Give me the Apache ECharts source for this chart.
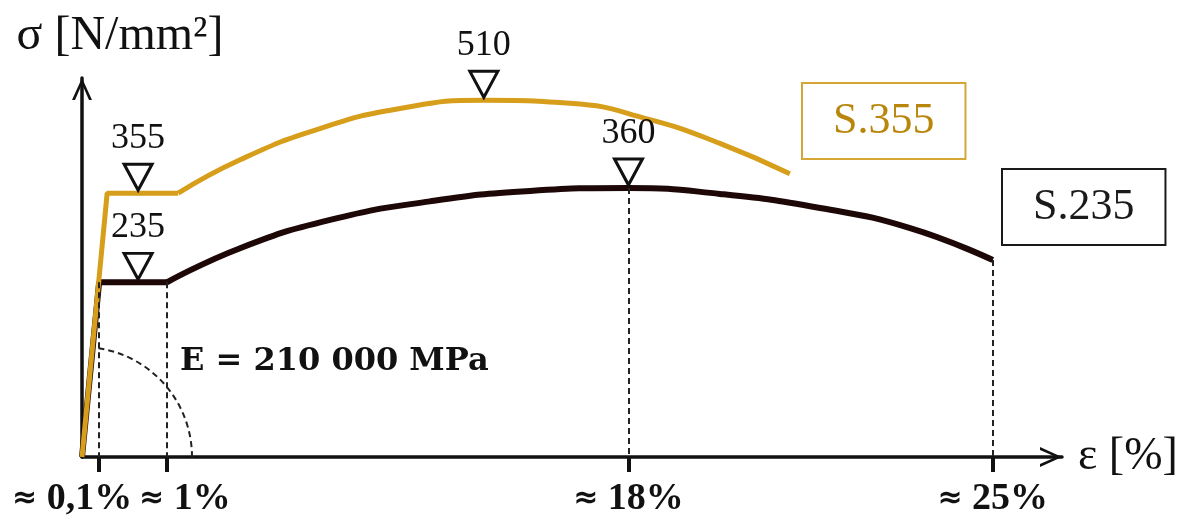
<!DOCTYPE html>
<html>
<head>
<meta charset="utf-8">
<title>σ-ε</title>
<script src="https://cdn.jsdelivr.net/npm/echarts@6/dist/echarts.min.js"></script>
<style>
	html, body { margin: 0; padding: 0; background: #fff; }
	#chart { width: 1195px; height: 520px; }
</style>
</head>
<body>
<div id="chart"></div>
<script>
// x: schematic strain position, y: stress [N/mm2]
var xTicks = [0.47, 2.33, 15, 25];
var xTickLabels = ['≈ 0,1%', '≈ 1%', '≈ 18%', '≈ 25%'];

// S.235
var s235Linear = [[0, 0], [0.47, 235], [2.33, 235]];
var s235Curve = [[2.33, 235], [4.34, 281], [6.81, 319], [9.55, 344], [12.3, 358],
	[15, 362], [17.51, 354], [20.26, 335], [22.73, 308], [25, 265]];
var s235Marks = [[1.54, 235], [15, 362]];
var s235MarkText = ['235', '360'];

// S.355
var s355Linear = [[0, 0], [0.69, 355], [2.64, 355]];
var s355Curve = [[2.64, 355], [4.34, 400], [6.53, 442], [8.73, 469], [11.03, 480],
	[13.4, 476], [15.59, 454], [17.51, 422], [19.43, 381]];
var s355Marks = [[1.54, 355], [11.03, 480]];
var s355MarkText = ['355', '510'];

var modulusText = 'E = 210 000 MPa';
var modulusAt = [2.69, 128];

var GOLD = '#d69e1a';
var DARK = '#1e0707';
var SERIF = "'Liberation Serif', 'Times New Roman', serif";

// open arrow head
var ARROW = 'path://M0,22 L10,0 L20,22 L17,22 L10,6 L3,22 Z';

// shift of the first two tick labels (they sit off their ticks)
var labelPad = [[0, 54, 0, 0], [0, 0, 0, 36], [0, 0, 0, 0], [0, 0, 0, 0]];

var tickRich = {};
labelPad.forEach(function (pad, i) {
	tickRich['a' + i] = {
		fontSize: 30, fontWeight: 'bold', fontFamily: "'DejaVu Sans', sans-serif", color: '#111',
		padding: [0, 0, 0, pad[3]]
	};
	tickRich['b' + i] = {
		fontSize: 38, fontWeight: 'bold', fontFamily: SERIF, color: '#111',
		padding: [0, pad[1], 0, 0]
	};
});

function triangles(points, texts) {
	return {
		symbol: 'triangle',
		symbolRotate: 180,
		symbolSize: [28, 26],
		symbolOffset: [0, -16],
		itemStyle: { color: '#fff', borderColor: '#111', borderWidth: 3 },
		label: {
			show: true, position: 'top', distance: 6,
			color: '#111', fontSize: 36, fontFamily: SERIF,
			formatter: '{b}'
		},
		data: points.map(function (p, i) {
			return { coord: p, name: texts[i] };
		})
	};
}

function boxLegend(name, left, top, border, color) {
	return {
		data: [name], left: left, top: top,
		selectedMode: false,
		icon: 'rect',
		itemWidth: 0, itemHeight: 44,
		itemStyle: { opacity: 0 },
		lineStyle: { opacity: 0 },
		padding: [16, 31, 16, 26],
		borderColor: border, borderWidth: 2,
		textStyle: { color: color, fontSize: 44, fontFamily: SERIF }
	};
}

var chart = echarts.init(document.getElementById('chart'));

var option = {
	animation: false,
	grid: { left: 82, right: 133, top: 78, bottom: 63 },
	xAxis: {
		type: 'value',
		min: 0,
		max: 26.9,
		name: 'ε [%]',
		nameLocation: 'end',
		nameGap: 16,
		nameTextStyle: { color: '#111', fontSize: 46, fontFamily: SERIF, padding: [0, 0, 8, 0] },
		axisLine: {
			lineStyle: { color: '#111', width: 3.5 },
			symbol: ['none', ARROW],
			symbolSize: [20, 22],
			symbolOffset: [0, -11]
		},
		axisTick: {
			customValues: xTicks,
			length: 15,
			lineStyle: { color: '#111', width: 4 }
		},
		axisLabel: {
			customValues: xTicks,
			margin: 23,
			formatter: function (v) {
				var i = xTicks.indexOf(v);
				var parts = xTickLabels[i].split(' ');
				return '{a' + i + '|' + parts[0] + '}{b' + i + '| ' + parts[1] + '}';
			},
			rich: tickRich
		},
		splitLine: { show: false }
	},
	yAxis: {
		type: 'value',
		min: 0,
		max: 510,
		name: 'σ [N/mm²]',
		nameLocation: 'end',
		nameGap: 18,
		nameTextStyle: { color: '#111', fontSize: 48, fontFamily: SERIF, align: 'center', padding: [0, 0, 0, 76] },
		axisLine: {
			lineStyle: { color: '#111', width: 3.5 },
			symbol: ['none', ARROW],
			symbolSize: [20, 22],
			symbolOffset: [0, -11]
		},
		axisTick: { show: false },
		axisLabel: { show: false },
		splitLine: { show: false }
	},
	legend: [
		boxLegend('S.355', 802, 83, '#d6a634', '#b8860b'),
		boxLegend('S.235', 1002, 169, '#1a1a1a', '#1a1a1a')
	],
	series: [
		{
			name: 'S.235', type: 'line', data: s235Linear,
			symbol: 'none', color: DARK,
			lineStyle: { width: 6, color: DARK },
			markPoint: (function () {
				var m = triangles(s235Marks, s235MarkText);
				m.data.push({
					coord: modulusAt, name: modulusText,
					symbolSize: 0,
					symbolOffset: [0, 0],
					label: {
						position: 'right', distance: 0,
						fontSize: 32, fontWeight: 'bold',
						fontFamily: "'DejaVu Serif', serif", color: '#111'
					}
				});
				return m;
			})(),
			z: 3
		},
		{
			name: 'S.235', type: 'line', data: s235Curve,
			symbol: 'none', smooth: 0.5, color: DARK,
			lineStyle: { width: 6, color: DARK },
			markLine: {
				silent: true,
				symbol: ['none', 'none'],
				label: { show: false },
				lineStyle: { color: '#222', width: 2, type: [6, 4] },
				data: [s235Linear[1], s235Linear[2], s235Curve[5], s235Curve[s235Curve.length - 1]].map(function (p) {
					return [{ coord: p }, { coord: [p[0], 0] }];
				})
			},
			z: 2
		},
		{
			name: 'S.355', type: 'line', data: s355Linear,
			symbol: 'none', color: GOLD,
			lineStyle: { width: 5, color: GOLD },
			markPoint: triangles(s355Marks, s355MarkText),
			z: 4
		},
		{
			name: 'S.355', type: 'line', data: s355Curve,
			symbol: 'none', smooth: 0.5, color: GOLD,
			lineStyle: { width: 5, color: GOLD },
			z: 4
		}
	]
};

chart.setOption(option);

// dashed arc for the slope angle
var origin = chart.convertToPixel({ gridIndex: 0 }, [0, 0]);
chart.setOption({
	graphic: [{
		type: 'arc',
		silent: true,
		shape: { cx: origin[0], cy: origin[1], r: 110, startAngle: -1.42, endAngle: 0 },
		style: { stroke: '#222', lineWidth: 2, lineDash: [6, 4], fill: 'none' },
		z: 1
	}]
});
</script>
</body>
</html>
